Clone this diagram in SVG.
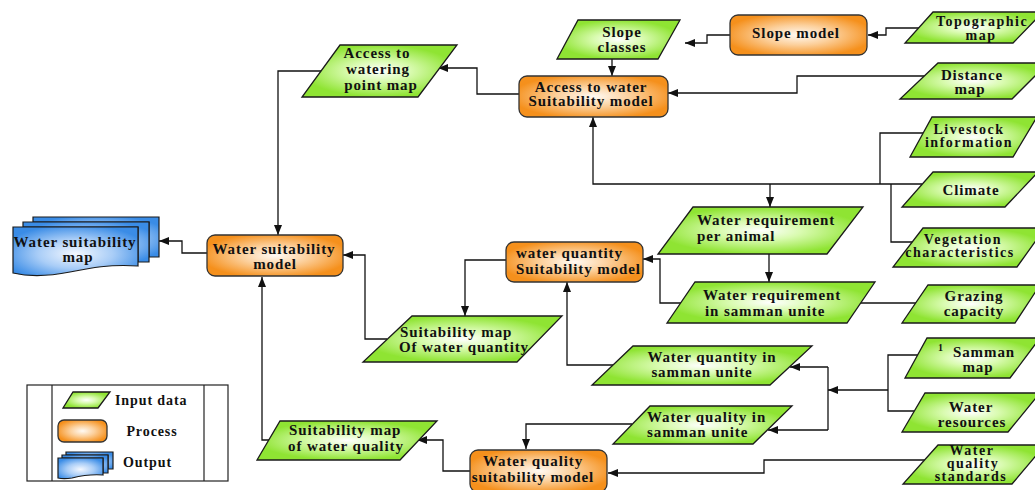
<svg xmlns="http://www.w3.org/2000/svg" width="1035" height="490" viewBox="0 0 1035 490">
<defs>
<radialGradient id="gG" cx="0.5" cy="0.5" r="0.5">
<stop offset="0" stop-color="#ffffff"/>
<stop offset="0.4" stop-color="#d9fbb0"/>
<stop offset="1" stop-color="#8fe433"/>
</radialGradient>
<radialGradient id="gO" cx="0.5" cy="0.5" r="0.55">
<stop offset="0" stop-color="#fffaf4"/>
<stop offset="0.45" stop-color="#fcd09c"/>
<stop offset="1" stop-color="#f5901c"/>
</radialGradient>
<radialGradient id="gB" cx="0.5" cy="0.55" r="0.6">
<stop offset="0" stop-color="#f4f8ff"/>
<stop offset="0.5" stop-color="#a9cdf7"/>
<stop offset="1" stop-color="#3a8ce6"/>
</radialGradient>
<marker id="ar" markerUnits="userSpaceOnUse" markerWidth="10" markerHeight="8" refX="10" refY="4" orient="auto">
<path d="M0,0 L10,4 L0,8 z" fill="#111"/>
</marker>
<style>
.in{fill:url(#gG);stroke:#1a1a1a;stroke-width:1.3}
.pr{fill:url(#gO);stroke:#333;stroke-width:1.3}
.out{fill:url(#gB);stroke:#1a1a1a;stroke-width:1.2}
.t{font-family:"Liberation Serif","Times New Roman",serif;font-weight:bold;font-size:15px;letter-spacing:0.9px;fill:#111;text-anchor:middle}
.k{font-size:14px;letter-spacing:1.5px}
.s{text-anchor:start}
.c{fill:none;stroke:#111;stroke-width:1.3}
.a{marker-end:url(#ar)}
</style>
</defs>

<g id="connectors">
<path class="c a" d="M922,28 H886 V35 H868"/>
<path class="c a" d="M730,35 H707 V43 H685"/>
<path class="c a" d="M612,59 V76"/>
<path class="c a" d="M925,76 H797 V93 H668"/>
<path class="c a" d="M519,94 H477 V68 H438"/>
<path class="c a" d="M322,71 H278 V235"/>
<path class="c a" d="M922,184 H593 V117"/>
<path class="c" d="M923,133 H880 V184"/>
<path class="c" d="M913,242 H891 V184"/>
<path class="c a" d="M770,184 V207"/>
<path class="c a" d="M769,254 V282"/>
<path class="c a" d="M916,303 H848"/>
<path class="c a" d="M681,303 H660 V259 H643"/>
<path class="c a" d="M506,260 H465 V316"/>
<path class="c a" d="M387,339 H365 V255 H343"/>
<path class="c a" d="M613,365 H567 V282"/>
<path class="c" d="M918,355 H888 V411 H914"/>
<path class="c a" d="M888,390 H828"/>
<path class="c" d="M828,367 V430"/>
<path class="c a" d="M828,367 H790"/>
<path class="c a" d="M828,430 H768"/>
<path class="c a" d="M632,424 H526 V449"/>
<path class="c a" d="M925,460 H764 V473 H608"/>
<path class="c a" d="M470,471 H443 V440 H417"/>
<path class="c a" d="M269,440 H262 V277"/>
<path class="c a" d="M207,253 H182 V241 H159"/>
</g>

<g id="topographic-map">
<polygon class="in" points="933,12 1043,12 1013,43 905,43"/>
<text class="t k" x="982" y="26">Topographic</text>
<text class="t k" x="981" y="40">map</text>
</g>
<g id="slope-model">
<rect class="pr" x="730" y="15" width="137" height="40" rx="8"/>
<text class="t" x="796" y="38">Slope model</text>
</g>
<g id="slope-classes">
<polygon class="in" points="578,20 680,20 658,59 557,59"/>
<text class="t" x="622" y="37">Slope</text>
<text class="t" x="622" y="52">classes</text>
</g>
<g id="distance-map">
<polygon class="in" points="938,63 1048,63 1012,99 900,99"/>
<text class="t" x="972" y="80">Distance</text>
<text class="t" x="970" y="94">map</text>
</g>
<g id="access-model">
<rect class="pr" x="519" y="76" width="149" height="41" rx="8"/>
<text class="t" x="591" y="92">Access to water</text>
<text class="t" x="591" y="106">Suitability model</text>
</g>
<g id="access-point-map">
<polygon class="in" points="340,45 457,45 418,97 302,97"/>
<text class="t" x="377" y="58">Access to</text>
<text class="t" x="378" y="74">watering</text>
<text class="t" x="381" y="90">point map</text>
</g>
<g id="livestock">
<polygon class="in" points="932,117 1037,117 1013,157 910,157"/>
<text class="t k" x="969" y="134">Livestock</text>
<text class="t k" x="969" y="147">information</text>
</g>
<g id="climate">
<polygon class="in" points="933,172 1038,172 1005,207 902,207"/>
<text class="t" x="971" y="195">Climate</text>
</g>
<g id="vegetation">
<polygon class="in" points="923,228 1045,228 1017,267 893,267"/>
<text class="t k" x="963" y="244">Vegetation</text>
<text class="t k" x="960" y="257">characteristics</text>
</g>
<g id="water-req-animal">
<polygon class="in" points="693,207 863,207 827,254 658,254"/>
<text class="t s" x="697" y="225">Water requirement</text>
<text class="t s" x="697" y="241">per animal</text>
</g>
<g id="water-req-samman">
<polygon class="in" points="695,282 875,282 847,323 667,323"/>
<text class="t s" x="703" y="300">Water requirement</text>
<text class="t s" x="705" y="316">in samman unite</text>
</g>
<g id="grazing">
<polygon class="in" points="928,285 1040,285 1015,323 902,323"/>
<text class="t" x="974" y="301">Grazing</text>
<text class="t" x="974" y="316">capacity</text>
</g>
<g id="quantity-model">
<rect class="pr" x="506" y="242" width="137" height="40" rx="8"/>
<text class="t s" x="516" y="258">water quantity</text>
<text class="t s" x="516" y="274">Suitability model</text>
</g>
<g id="quantity-map">
<polygon class="in" points="412,316 562,316 517,362 363,362"/>
<text class="t s" x="400" y="337">Suitability map</text>
<text class="t s" x="399" y="352">Of water quantity</text>
</g>
<g id="quantity-samman">
<polygon class="in" points="633,346 812,346 770,385 592,385"/>
<text class="t" x="712" y="362">Water quantity in</text>
<text class="t" x="702" y="377">samman unite</text>
</g>
<g id="samman-map">
<polygon class="in" points="927,338 1040,338 1010,378 905,378"/>
<text class="t" x="941" y="351" style="font-size:10px">1</text>
<text class="t" x="984" y="357">Samman</text>
<text class="t" x="978" y="372">map</text>
</g>
<g id="water-resources">
<polygon class="in" points="925,393 1040,393 1008,432 902,432"/>
<text class="t" x="971" y="412">Water</text>
<text class="t" x="972" y="427">resources</text>
</g>
<g id="quality-samman">
<polygon class="in" points="650,406 792,406 753,444 613,444"/>
<text class="t s" x="647" y="422">Water quality in</text>
<text class="t s" x="647" y="437">samman unite</text>
</g>
<g id="quality-standards">
<polygon class="in" points="938,445 1045,445 1012,484 903,484"/>
<text class="t k" x="972" y="455">Water</text>
<text class="t k" x="973" y="468">quality</text>
<text class="t k" x="971" y="481">standards</text>
</g>
<g id="quality-model">
<rect class="pr" x="470" y="450" width="137" height="42" rx="8"/>
<text class="t" x="533" y="466">Water quality</text>
<text class="t" x="533" y="482">suitability model</text>
</g>
<g id="quality-map">
<polygon class="in" points="280,421 437,421 400,460 257,460"/>
<text class="t s" x="289" y="435">Suitability map</text>
<text class="t s" x="288" y="451">of water quality</text>
</g>
<g id="water-suitability-model">
<rect class="pr" x="207" y="235" width="136" height="41" rx="8"/>
<text class="t" x="274" y="254">Water suitability</text>
<text class="t" x="275" y="269">model</text>
</g>
<g id="water-suitability-map">
<path class="out" d="M33,217 H159 V257 H149 V222 H33 Z"/>
<path class="out" d="M23,222 H149 V262 H138 V227 H23 Z"/>
<path class="out" d="M13,227 H138 V266 C110,264 90,268 70,272 C50,276 30,277 13,273 Z"/>
<text class="t" x="75" y="247">Water suitability</text>
<text class="t" x="78" y="262">map</text>
</g>

<g id="legend">
<rect x="27" y="385" width="201" height="96" fill="#fff" stroke="#222" stroke-width="1.2"/>
<line x1="52" y1="385" x2="52" y2="481" stroke="#222" stroke-width="1.2"/>
<line x1="204" y1="385" x2="204" y2="481" stroke="#222" stroke-width="1.2"/>
<polygon class="in" points="73,392 110,392 98,408 63,408"/>
<text class="t s" x="115" y="405" style="font-size:14px">Input data</text>
<rect class="pr" x="58" y="420" width="49" height="22" rx="6"/>
<text class="t" x="152" y="436" style="font-size:14px">Process</text>
<path class="out" d="M66,452 H113 V469 H108 V455 H66 Z"/>
<path class="out" d="M62,455 H108 V473 H103 V458 H62 Z"/>
<path class="out" d="M58,458 H103 V475 C90,474 80,476 72,478 C66,479 62,479 58,478 Z"/>
<text class="t s" x="123" y="467" style="font-size:14px">Output</text>
</g>
</svg>
